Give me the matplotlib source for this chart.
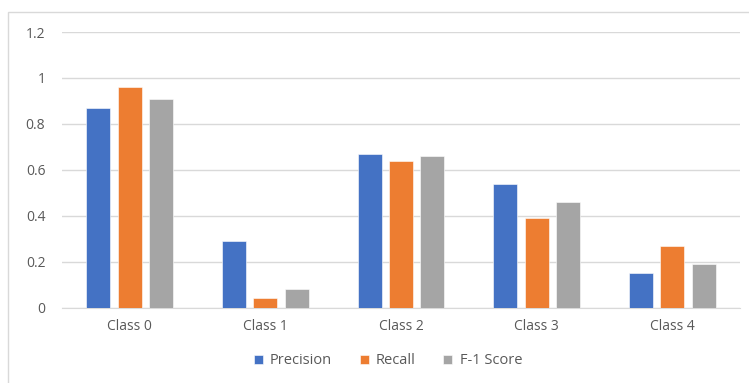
import numpy as np
import matplotlib
matplotlib.use('Agg')
import matplotlib.pyplot as plt
from matplotlib.patches import Rectangle

# values
classes = ["Class 0", "Class 1", "Class 2", "Class 3", "Class 4"]
precision = [0.87, 0.29, 0.67, 0.54, 0.15]
recall = [0.96, 0.04, 0.64, 0.39, 0.27]
f1_score = [0.91, 0.08, 0.66, 0.46, 0.19]
series_names = ["Precision", "Recall", "F-1 Score"]
y_ticks = [0, 0.2, 0.4, 0.6, 0.8, 1.0, 1.2]
y_tick_labels = ["0", "0.2", "0.4", "0.6", "0.8", "1", "1.2"]

colors = ["#4472C4", "#ED7D31", "#A5A5A5"]
text_color = "#595959"
grid_color = "#D9D9D9"

plt.rcParams['font.family'] = ['Open Sans', 'DejaVu Sans']

fig = plt.figure(figsize=(7.49, 3.83), dpi=100)
# outer chart border (cut off on the right and bottom in the reference)
fig.patches.append(Rectangle((8 / 749, -0.05), 1.0, 1 - 12 / 383 + 0.05,
                             transform=fig.transFigure, fill=False,
                             edgecolor=grid_color, linewidth=1.0))

ax = fig.add_axes([62 / 749, 75.5 / 383, 678 / 749, 275.5 / 383])

x = np.arange(len(classes))
width = 0.177
step = 0.232
for i, (vals, name) in enumerate(zip([precision, recall, f1_score], series_names)):
    ax.bar(x + (i - 1) * step, vals, width, color=colors[i], label=name,
           edgecolor="white", linewidth=0.4, zorder=3)

ax.set_xlim(-0.5, len(classes) - 0.5)
ax.set_ylim(0, 1.2)
ax.set_yticks(y_ticks)
ax.set_yticklabels(y_tick_labels)
ax.set_xticks(x)
ax.set_xticklabels(classes)
ax.tick_params(axis='both', length=0, colors=text_color, labelsize=10)
ax.tick_params(axis='y', pad=12)
ax.tick_params(axis='x', pad=8)
ax.grid(axis='y', color=grid_color, linewidth=1.0, zorder=0)
for s in ["top", "right", "left"]:
    ax.spines[s].set_visible(False)
ax.spines["bottom"].set_color(grid_color)

fig.legend(loc="center", bbox_to_anchor=(388 / 749, 1 - 361 / 383), ncol=3,
           frameon=False, fontsize=10.5, labelcolor=text_color,
           handlelength=0.6, handleheight=0.6, handletextpad=0.5,
           columnspacing=1.9)

fig.savefig("out.png", dpi=100)
